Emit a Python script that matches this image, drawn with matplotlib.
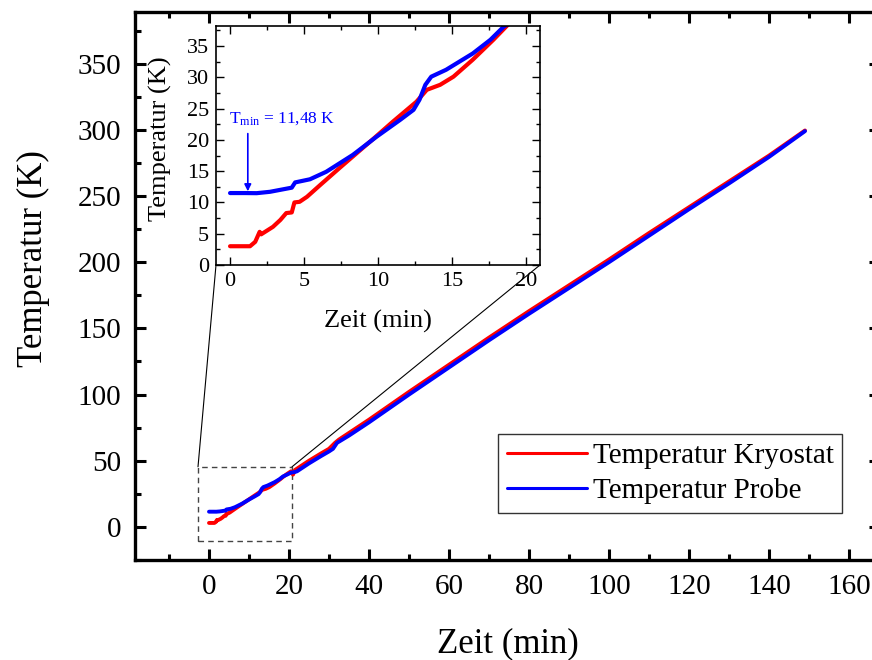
import matplotlib
matplotlib.use("Agg")
import matplotlib.pyplot as plt
from matplotlib.patches import Rectangle, ConnectionPatch
from matplotlib.ticker import MultipleLocator

plt.rcParams["font.family"] = ["Liberation Serif", "DejaVu Serif"]
plt.rcParams["mathtext.fontset"] = "custom"
plt.rcParams["mathtext.rm"] = "Liberation Serif"
plt.rcParams["mathtext.it"] = "Liberation Serif:italic"

# Kryostat temperature (K) vs. time (min)
t_kryo = [0.0, 1.35, 1.7, 2.0, 2.1, 2.9, 3.4, 3.8, 4.17, 4.35, 4.7, 5.2, 6.1,
          7.4, 9.7, 11.0, 12.6, 13.3, 14.2, 15.1, 16.4, 17.8, 18.7, 19.5, 20.5,
          21.0, 21.5, 25.0, 28.0, 30.0, 31.5, 32.5, 35.0, 40.0, 50.0, 60.0,
          70.0, 80.0, 90.0, 100.0, 110.0, 120.0, 130.0, 140.0, 149.0]
T_kryo = [3.0, 3.0, 3.7, 5.3, 4.9, 6.1, 7.2, 8.3, 8.4, 10.0, 10.1, 10.9, 12.8,
          15.5, 20.2, 22.9, 26.1, 28.0, 28.8, 30.1, 32.8, 36.0, 38.2, 40.0, 42.0,
          39.5, 43.0, 50.0, 55.5, 59.0, 63.5, 66.0, 71.0, 81.0, 102.0, 122.5,
          143.0, 163.0, 182.5, 202.0, 222.0, 241.5, 261.0, 280.5, 299.5]

# Sample temperature (K) vs. time (min)
t_probe = [0.0, 1.0, 1.8, 2.7, 4.17, 4.4, 5.4, 6.5, 8.3, 9.9, 11.5, 12.4, 12.8,
           13.2, 13.6, 14.6, 16.4, 17.6, 18.5, 19.5, 20.5, 21.5, 22.0, 25.0,
           28.0, 30.0, 31.0, 32.0, 35.0, 40.0, 50.0, 60.0, 70.0, 80.0, 90.0,
           100.0, 110.0, 120.0, 130.0, 140.0, 149.0]
T_probe = [11.5, 11.5, 11.48, 11.7, 12.36, 13.2, 13.7, 14.9, 17.6, 20.5, 23.2,
           24.8, 26.4, 28.8, 30.1, 31.2, 33.8, 36.0, 38.1, 39.5, 41.0, 41.5,
           42.0, 48.0, 53.5, 57.0, 59.0, 63.5, 69.0, 79.0, 100.0, 120.5, 141.0,
           161.0, 180.5, 200.0, 220.0, 240.0, 259.5, 279.5, 299.0]

label_kryo = "Temperatur Kryostat"
label_probe = "Temperatur Probe"
T_min = 11.48
t_at_min = 1.2

RED = "#ff0000"
BLUE = "#0000ff"

fig = plt.figure(figsize=(8.72, 6.60), dpi=100)

# ---- main axes ----
ax = fig.add_axes([135 / 872, 100 / 660, 745 / 872, 548 / 660])
ax.plot(t_kryo, T_kryo, color=RED, lw=2.8, label=label_kryo, solid_capstyle="round")
ax.plot(t_probe, T_probe, color=BLUE, lw=2.8, label=label_probe, solid_capstyle="round")
ax.set_xlim(-18.5, 167.75)
ax.set_ylim(-25, 389)
ax.xaxis.set_major_locator(MultipleLocator(20))
ax.xaxis.set_minor_locator(MultipleLocator(10))
ax.yaxis.set_major_locator(MultipleLocator(50))
ax.yaxis.set_minor_locator(MultipleLocator(25))
ax.tick_params(which="both", direction="in", top=True, right=True, width=2.2)
ax.tick_params(which="major", length=8, labelsize=21, pad=10)
ax.tick_params(which="minor", length=4.5)
for s in ax.spines.values():
    s.set_linewidth(2.4)
ax.set_xlabel("Zeit (min)", fontsize=25, labelpad=20)
ax.set_ylabel("Temperatur (K)", fontsize=25)
ax.yaxis.set_label_coords(-0.114, 0.55)

leg = ax.legend(loc="upper left", bbox_to_anchor=(498 / 872, (660 - 434) / 660),
                bbox_transform=fig.transFigure, fontsize=21, frameon=True,
                fancybox=False, edgecolor="black", borderaxespad=0,
                handlelength=2.75, handletextpad=0.2, borderpad=0.3,
                labelspacing=0.3)
leg.get_frame().set_linewidth(1.0)
for line in leg.get_lines():
    line.set_linewidth(2.2)

# zoom region marker
zoom_x0, zoom_x1 = -2.75, 20.75
zoom_y0, zoom_y1 = -10.6, 45.4
ax.add_patch(Rectangle((zoom_x0, zoom_y0), zoom_x1 - zoom_x0, zoom_y1 - zoom_y0,
                       fill=False, ls=(0, (4, 3)), lw=1.0, ec="#444444", zorder=1))

# ---- inset ----
ins = fig.add_axes([216 / 872, 395 / 660, 324 / 872, 239 / 660])
ins.plot(t_kryo, T_kryo, color=RED, lw=3.0, solid_capstyle="round")
ins.plot(t_probe, T_probe, color=BLUE, lw=3.0, solid_capstyle="round")
ins.set_xlim(-0.95, 20.95)
ins.set_ylim(0, 38.2)
ins.xaxis.set_major_locator(MultipleLocator(5))
ins.xaxis.set_minor_locator(MultipleLocator(2.5))
ins.yaxis.set_major_locator(MultipleLocator(5))
ins.yaxis.set_minor_locator(MultipleLocator(2.5))
ins.tick_params(which="both", direction="in", top=True, right=True, width=1.0)
ins.tick_params(which="major", length=6, labelsize=16, pad=5)
ins.tick_params(which="minor", length=3)
for s in ins.spines.values():
    s.set_linewidth(1.2)
ins.set_xlabel("Zeit (min)", fontsize=19, labelpad=14)
ins.set_ylabel("Temperatur (K)", fontsize=19)
ins.yaxis.set_label_coords(-0.136, 0.53)

ins.annotate("", xy=(t_at_min, T_min + 0.3), xytext=(t_at_min, 21.0),
             arrowprops=dict(arrowstyle="-|>", color=BLUE, lw=1.2,
                             mutation_scale=10, shrinkA=0, shrinkB=0))
ins.text(-0.05, 23.4, r"T$_{\mathrm{min}}$ = 11,48 K", color=BLUE, fontsize=12.5,
         ha="left", va="center")

# connectors from marker to inset
for (xa, xb) in [((zoom_x0, zoom_y1), (0, 0)), ((zoom_x1, zoom_y1), (1, 0))]:
    cp = ConnectionPatch(xyA=xa, coordsA=ax.transData, xyB=xb, coordsB=ins.transAxes,
                         color="black", lw=0.8)
    fig.add_artist(cp)

fig.savefig("out.png", dpi=100)
